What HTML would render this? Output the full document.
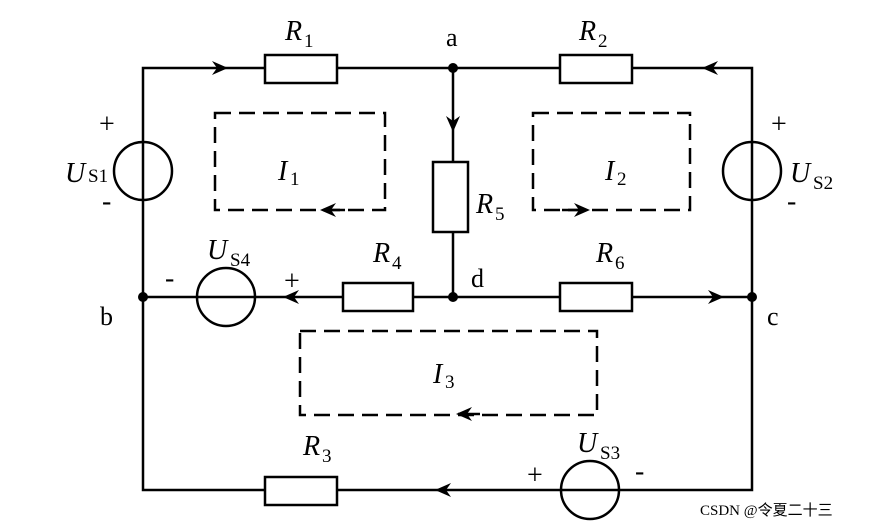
<!DOCTYPE html>
<html><head><style>body{margin:0;background:#fff}svg{display:block}
text{font-family:"Liberation Serif",serif;fill:#000}
.i{font-style:italic;font-size:28px}.s{font-size:19px}.p{font-size:28px}</style></head>
<body>
<svg width="887" height="528" viewBox="0 0 887 528" xmlns="http://www.w3.org/2000/svg">
<defs><path id="ar" d="M0 0 L-16 -7 L-11 0 L-16 7 Z" fill="#000"/></defs>
<g stroke="#000" stroke-width="2.5" fill="none">
<path d="M143 68 H752 V490 H143 Z M143 297 H752 M453 68 V297"/>
</g>
<g stroke="#000" stroke-width="2.5" fill="#fff">
<rect x="265" y="55" width="72" height="28"/>
<rect x="560" y="55" width="72" height="28"/>
<rect x="433" y="162" width="35" height="70"/>
<rect x="343" y="283" width="70" height="28"/>
<rect x="560" y="283" width="72" height="28"/>
<rect x="265" y="477" width="72" height="28"/>
</g>
<g stroke="#000" stroke-width="2.5" fill="none">
<circle cx="143" cy="171" r="29"/><circle cx="752" cy="171" r="29"/>
<circle cx="226" cy="297" r="29"/><circle cx="590" cy="490" r="29"/>
</g>
<g stroke="#000" stroke-width="2.5" fill="none" stroke-dasharray="16,8">
<rect x="215" y="113" width="170" height="97"/>
<rect x="533" y="113" width="157" height="97"/>
<rect x="300" y="331" width="297" height="84"/>
</g>
<g fill="#000"><circle cx="453" cy="68" r="5"/><circle cx="143" cy="297" r="5"/><circle cx="453" cy="297" r="5"/><circle cx="752" cy="297" r="5"/></g>
<use href="#ar" transform="translate(228 68)"/>
<use href="#ar" transform="translate(702 68) rotate(180)"/>
<use href="#ar" transform="translate(453 132) rotate(90)"/>
<use href="#ar" transform="translate(283 297) rotate(180)"/>
<use href="#ar" transform="translate(724 297)"/>
<use href="#ar" transform="translate(435 490) rotate(180)"/>
<g stroke="#000" stroke-width="2.5"><path d="M323 210 H345 M562 210 H585 M458 414 H480"/></g>
<use href="#ar" transform="translate(320 210) rotate(180)"/>
<use href="#ar" transform="translate(590 210)"/>
<use href="#ar" transform="translate(456 414) rotate(180)"/>
<text x="285" y="40" class="i">R</text><text x="304" y="47" class="s">1</text>
<text x="579" y="40" class="i">R</text><text x="598" y="47" class="s">2</text>
<text x="476" y="213" class="i">R</text><text x="495" y="220" class="s">5</text>
<text x="373" y="262" class="i">R</text><text x="392" y="269" class="s">4</text>
<text x="596" y="262" class="i">R</text><text x="615" y="269" class="s">6</text>
<text x="303" y="455" class="i">R</text><text x="322" y="462" class="s">3</text>
<text x="446" y="46" font-size="26">a</text>
<text x="471" y="287" font-size="26">d</text>
<text x="100" y="325" font-size="26">b</text>
<text x="767" y="325" font-size="26">c</text>
<text x="65" y="182" class="i">U</text><text x="88" y="182" class="s">S1</text>
<text x="790" y="182" class="i">U</text><text x="813" y="189" class="s">S2</text>
<text x="207" y="259" class="i">U</text><text x="230" y="266" class="s">S4</text>
<text x="577" y="452" class="i">U</text><text x="600" y="459" class="s">S3</text>
<text x="278" y="180" class="i">I</text><text x="290" y="185" class="s">1</text>
<text x="605" y="180" class="i">I</text><text x="617" y="185" class="s">2</text>
<text x="433" y="383" class="i">I</text><text x="445" y="388" class="s">3</text>
<text x="99" y="133" class="p">+</text><text x="102" y="210" class="p">-</text>
<text x="771" y="133" class="p">+</text><text x="787" y="210" class="p">-</text>
<text x="165" y="287" class="p">-</text><text x="284" y="290" class="p">+</text>
<text x="527" y="484" class="p">+</text><text x="635" y="480" class="p">-</text>
<text x="700" y="515" font-family="Liberation Sans,'Noto Sans CJK SC',sans-serif" font-size="15" fill="#666">CSDN @令夏二十三</text>
</svg>
</body></html>
